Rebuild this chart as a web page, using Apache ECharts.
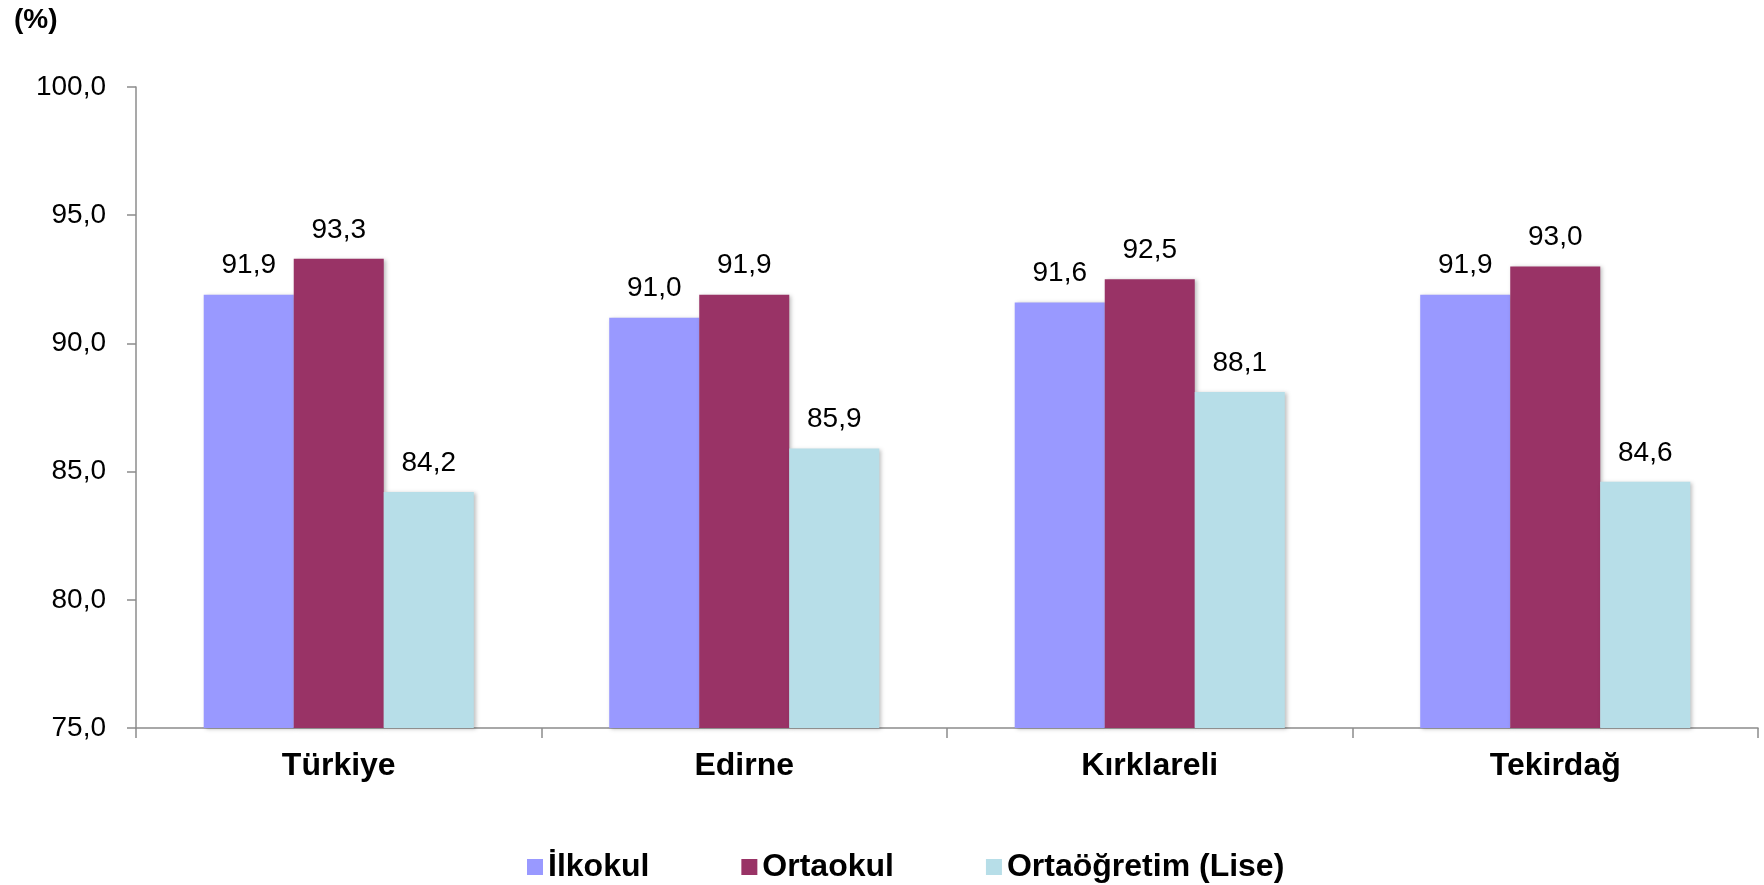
<!DOCTYPE html>
<html>
<head>
<meta charset="utf-8">
<script src="https://cdn.jsdelivr.net/npm/echarts@6/dist/echarts.min.js"></script>
<style>
  html, body { margin: 0; padding: 0; background: #fff; }
  #main { width: 1764px; height: 885px; }
</style>
</head>
<body>
<div id="main"></div>
<script>
// kategoriler ve seriler
var categories = ['Türkiye', 'Edirne', 'Kırklareli', 'Tekirdağ'];
var seriesNames = ['İlkokul', 'Ortaokul', 'Ortaöğretim (Lise)'];
var ilkokul = [91.9, 91.0, 91.6, 91.9];
var ortaokul = [93.3, 91.9, 92.5, 93.0];
var lise = [84.2, 85.9, 88.1, 84.6];
var colors = ['#9999FF', '#993366', '#B7DEE8'];

var myChart = echarts.init(document.getElementById('main'));

function fmt(v) {
  return Number(v).toFixed(1).replace('.', ',');
}

function makeSeries(name, data, color) {
  return {
    name: name,
    type: 'bar',
    data: data,
    barGap: '0%',
    barCategoryGap: '33.4%',
    itemStyle: {
      color: color,
      shadowBlur: 4,
      shadowOffsetX: 2,
      shadowOffsetY: 1,
      shadowColor: 'rgba(0,0,0,0.25)'
    },
    label: {
      show: true,
      position: 'top',
      distance: 15,
      color: '#000',
      fontFamily: 'Liberation Sans',
      fontSize: 28,
      formatter: function (p) { return fmt(p.value); }
    }
  };
}

var option = {
  backgroundColor: '#fff',
  animation: false,
  title: {
    text: '(%)',
    left: 9,
    top: 1,
    textStyle: { fontFamily: 'Liberation Sans', fontWeight: 'bold', fontSize: 28, color: '#000' }
  },
  grid: { left: 136, right: 6, top: 87, bottom: 157, containLabel: false },
  legend: {
    left: 522,
    top: 846,
    itemWidth: 16,
    itemHeight: 16,
    itemGap: 92,
    icon: 'rect',
    textStyle: { fontFamily: 'Liberation Sans', fontWeight: 'bold', fontSize: 32, color: '#000' },
    data: seriesNames
  },
  xAxis: {
    type: 'category',
    data: categories,
    axisLine: { lineStyle: { color: '#8c8c8c', width: 1.5 } },
    axisTick: { show: true, length: 10, interval: 0, alignWithLabel: false, lineStyle: { color: '#8c8c8c', width: 1.5 } },
    axisLabel: { margin: 22, fontFamily: 'Liberation Sans', fontWeight: 'bold', fontSize: 32, color: '#000' }
  },
  yAxis: {
    type: 'value',
    min: 75,
    max: 100,
    interval: 5,
    splitLine: { show: false },
    axisLine: { show: true, lineStyle: { color: '#8c8c8c', width: 1.5 } },
    axisTick: { show: true, length: 9, lineStyle: { color: '#8c8c8c', width: 1.5 } },
    axisLabel: { margin: 30, fontFamily: 'Liberation Sans', fontSize: 28, color: '#000', formatter: fmt }
  },
  series: [
    makeSeries(seriesNames[0], ilkokul, colors[0]),
    makeSeries(seriesNames[1], ortaokul, colors[1]),
    makeSeries(seriesNames[2], lise, colors[2])
  ]
};

myChart.setOption(option);
</script>
</body>
</html>
